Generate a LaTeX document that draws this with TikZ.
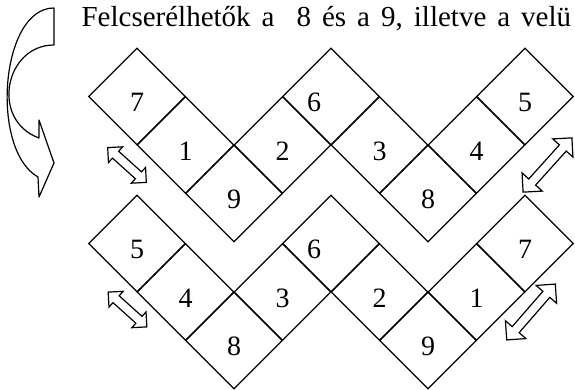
\documentclass[tikz,border=0pt]{standalone}
\usepackage{fontspec}
\setmainfont{Liberation Serif}
\usetikzlibrary{positioning,shapes.geometric,shapes.arrows}
\newcommand{\headfont}{\fontsize{29}{29}\selectfont\spaceskip=11pt\relax}

\begin{document}
\begin{tikzpicture}[
  x=1pt, y=-1pt, line width=1.2pt,
  on grid, node distance=48.5pt and 48.5pt,
  box/.style={draw, diamond, minimum width=97pt, minimum height=97pt, inner sep=0pt},
  digit/.style={font=\fontsize{28}{28}\selectfont, yshift=-6pt, inner sep=0pt},
  cell/.style={box, label={[digit]center:#1}},
  leftcell/.style={box, label={[digit, xshift=-17pt]center:#1}},
  swap/.style={draw, double arrow, double arrow head extend=#1, double arrow tip angle=90, inner xsep=0pt, inner ysep=4pt},
  turn/.style={draw, line join=round}
]
\useasboundingbox (0,0) rectangle (575,390);
\clip (0,0) rectangle (575,390);

\node[anchor=base west, inner sep=0pt, font=\headfont] (head) at (81,27) {Felcserélhetők a~ 8 és a 9, illetve a velü};

% felso sor
\node[cell=7] (a7) at (137,96.5) {};
\node[cell=1, below right=of a7] (a1) {};
\node[cell=9, below right=of a1] (a9) {};
\node[cell=2, above right=of a9] (a2) {};
\node[leftcell=6, above right=of a2] (a6) {};
\node[cell=3, below right=of a6] (a3) {};
\node[cell=8, below right=of a3] (a8) {};
\node[cell=4, above right=of a8] (a4) {};
\node[cell=5, above right=of a4] (a5) {};

% also sor
\node[cell=5] (b5) at (137,243.5) {};
\node[cell=4, below right=of b5] (b4) {};
\node[cell=8, below right=of b4] (b8) {};
\node[cell=3, above right=of b8] (b3) {};
\node[leftcell=6, above right=of b3] (b6) {};
\node[cell=2, below right=of b6] (b2) {};
\node[cell=9, below right=of b2] (b9) {};
\node[cell=1, above right=of b9] (b1) {};
\node[cell=7, above right=of b1] (b7) {};

% csere nyilak
\node[swap=6pt, minimum height=52pt, rotate=-42] (s1) at (127,165) {};
\node[swap=9pt, minimum height=73pt, rotate=48] (s2) at (547.5,165) {};
\node[swap=6pt, minimum height=52pt, rotate=-42] (s3) at (127.5,309.5) {};
\node[swap=9pt, minimum height=74pt, rotate=49] (s4) at (531,312) {};

% forgatas
\path[turn] (54,8) .. controls (0,8) and (-10,150) .. (38,177) -- (39,197) -- (54,163)
  -- (39,120) -- (39,138) .. controls (-10,120) and (5,45) .. (54,45) -- cycle;
\end{tikzpicture}
\end{document}
